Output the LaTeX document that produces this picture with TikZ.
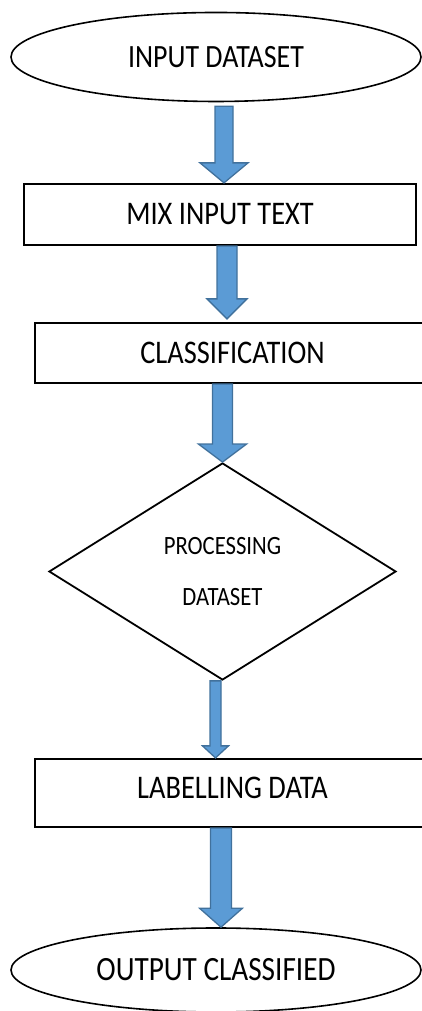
\documentclass[tikz,border=0pt]{standalone}
\usepackage{fontspec}
\setmainfont{Carlito}[FakeStretch=0.86]
\usetikzlibrary{calc,shapes.geometric}
\definecolor{arrfill}{HTML}{5B9BD5}
\definecolor{arrline}{HTML}{41719C}
\tikzset{
  ovalbox/.style={ellipse, draw=black, line width=1.6pt, inner sep=0pt, font=\fontsize{33}{40}\selectfont},
  rectbox/.style={rectangle, draw=black, line width=2.2pt, inner sep=0pt, font=\fontsize{33}{40}\selectfont},
  decbox/.style={diamond, draw=black, line width=1.8pt, inner sep=0pt, aspect=1.6, align=center, font=\fontsize{26.4}{51}\selectfont},
  blockarr/.style={fill=arrfill, draw=arrline, line width=1.3pt, line join=miter}
}
\newcommand\barrow[5]{\draw[blockarr] let \p1=(#1), \p2=(#2) in
  (\x2-#3,\y1) -- (\x2-#3,\y2+#5) -- (\x2-#4,\y2+#5) -- (\x2,\y2) -- (\x2+#4,\y2+#5) -- (\x2+#3,\y2+#5) -- (\x2+#3,\y1) -- cycle;}
\begin{document}
\begin{tikzpicture}[x=1pt,y=1pt]
\useasboundingbox (0,0) rectangle (422,1011);
\clip (0,0) rectangle (422,1011);
\node[ovalbox, minimum width=410pt, minimum height=89pt] (e1) at (216,954) {\fontsize{32.5}{40}\selectfont INPUT DATASET};
\node[rectbox, minimum width=392pt, minimum height=61pt] (r1) at (220,796.5) {MIX INPUT TEXT};
\node[rectbox, minimum width=440pt, minimum height=60pt] (r2) at (255,658) {\hspace*{-45pt}CLASSIFICATION};
\node[decbox, minimum width=347pt, minimum height=217pt] (d) at (222.5,439.5) {PROCESSING\\DATASET};
\node[rectbox, minimum width=440pt, minimum height=68pt, text depth=10pt] (r3) at (255,218) {\hspace*{-45pt}LABELLING DATA};
\node[ovalbox, minimum width=410pt, minimum height=84pt] (e2) at (216,41) {\fontsize{34}{40}\selectfont OUTPUT CLASSIFIED};
\coordinate (a1s) at ($(e1.south)+(0,-4)$);
\barrow{a1s}{$(r1.north)+(4,0)$}{9pt}{24pt}{20pt}
\barrow{r1.south}{$(r2.north)+(-28,3)$}{10pt}{20pt}{20pt}
\barrow{r2.south}{d.north}{10pt}{24pt}{18pt}
\barrow{d.south}{$(r3.north)+(-39.5,0)$}{5.5pt}{13pt}{12pt}
\barrow{r3.south}{$(e2.north)+(5,0)$}{10.5pt}{21.5pt}{19pt}
\end{tikzpicture}
\end{document}
